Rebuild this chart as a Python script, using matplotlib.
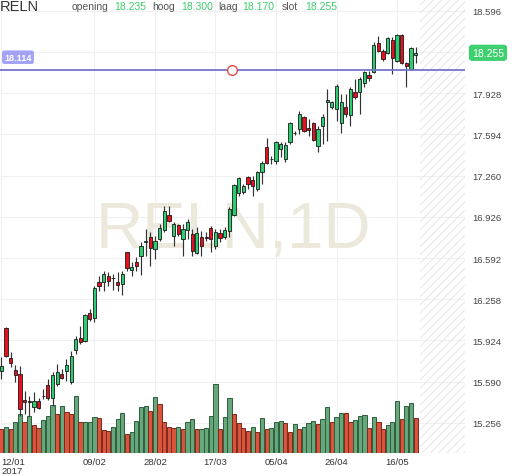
import matplotlib
matplotlib.use("Agg")
import matplotlib.pyplot as plt
import matplotlib.transforms as mtransforms
import numpy as np

# daily candles, 12/01/2017 .. 22/05/2017
opens = [15.679, 16.022, 15.779, 15.682, 15.654, 15.444, 15.436, 15.382, 15.436, 15.472,
         15.565, 15.455, 15.571, 15.654, 15.679, 15.585, 15.849, 15.944, 15.922, 16.146,
         16.103, 16.400, 16.395, 16.444, 16.430, 16.400, 16.381, 16.638, 16.497, 16.557,
         16.611, 16.724, 16.765, 16.665, 16.746, 16.819, 16.941, 16.773, 16.860, 16.746,
         16.819, 16.787, 16.633, 16.765, 16.765, 16.835, 16.692, 16.795, 16.760, 16.813,
         16.941, 17.116, 17.129, 17.246, 17.227, 17.151, 17.291, 17.489, 17.394, 17.381,
         17.475, 17.394, 17.530, 17.605, 17.638, 17.737, 17.643, 17.684, 17.502, 17.659,
         17.854, 17.813, 17.800, 17.686, 17.813, 17.751, 17.935, 17.935, 18.010, 18.075,
         18.099, 18.332, 18.267, 18.251, 18.361, 18.186, 18.399, 18.172, 18.124, 18.235]
highs = [15.787, 16.033, 15.833, 15.725, 15.719, 15.517, 15.476, 15.504, 15.455, 15.530,
         15.612, 15.666, 15.733, 15.693, 15.774, 15.841, 15.962, 16.039, 16.138, 16.179,
         16.368, 16.449, 16.489, 16.476, 16.462, 16.476, 16.489, 16.640, 16.557, 16.598,
         16.719, 16.827, 16.800, 16.773, 16.868, 17.016, 17.016, 16.881, 16.868, 16.868,
         16.908, 16.827, 16.841, 16.813, 16.800, 16.854, 16.827, 16.827, 16.841, 17.003,
         17.192, 17.246, 17.192, 17.259, 17.259, 17.300, 17.381, 17.562, 17.421, 17.543,
         17.535, 17.530, 17.692, 17.624, 17.786, 17.745, 17.719, 17.692, 17.664, 17.759,
         17.962, 17.867, 18.002, 17.921, 17.921, 17.975, 18.043, 18.056, 18.110, 18.110,
         18.340, 18.394, 18.286, 18.381, 18.381, 18.407, 18.407, 18.178, 18.300, 18.300]
lows = [15.612, 15.790, 15.706, 15.585, 15.312, 15.328, 15.314, 15.342, 15.368, 15.449,
        15.444, 15.395, 15.557, 15.612, 15.598, 15.571, 15.814, 15.895, 15.909, 16.084,
        16.071, 16.327, 16.327, 16.368, 16.335, 16.327, 16.292, 16.489, 16.449, 16.489,
        16.454, 16.611, 16.530, 16.584, 16.732, 16.800, 16.881, 16.692, 16.773, 16.611,
        16.746, 16.611, 16.625, 16.611, 16.732, 16.638, 16.665, 16.719, 16.746, 16.760,
        16.935, 17.092, 17.111, 17.151, 17.092, 17.137, 17.192, 17.354, 17.354, 17.354,
        17.408, 17.368, 17.516, 17.589, 17.597, 17.611, 17.583, 17.543, 17.449, 17.516,
        17.543, 17.800, 17.705, 17.605, 17.732, 17.659, 17.881, 17.759, 17.975, 18.026,
        18.089, 18.259, 18.191, 18.245, 18.083, 18.178, 18.164, 17.980, 18.116, 18.170]
closes = [15.719, 15.795, 15.741, 15.646, 15.368, 15.423, 15.423, 15.436, 15.374, 15.472,
          15.455, 15.646, 15.666, 15.622, 15.725, 15.800, 15.936, 15.909, 16.130, 16.098,
          16.349, 16.363, 16.460, 16.408, 16.430, 16.373, 16.465, 16.509, 16.522, 16.530,
          16.692, 16.732, 16.671, 16.732, 16.833, 16.975, 16.894, 16.868, 16.787, 16.827,
          16.881, 16.651, 16.795, 16.692, 16.752, 16.746, 16.800, 16.752, 16.821, 16.989,
          17.184, 17.240, 17.173, 17.192, 17.178, 17.291, 17.360, 17.362, 17.394, 17.530,
          17.516, 17.508, 17.684, 17.605, 17.759, 17.624, 17.632, 17.548, 17.638, 17.737,
          17.872, 17.854, 17.988, 17.854, 17.759, 17.962, 17.894, 18.043, 18.097, 18.048,
          18.318, 18.267, 18.205, 18.375, 18.210, 18.399, 18.172, 18.150, 18.294, 18.255]
# volume (relative, thousands) and bar direction as coloured on the chart
volumes = [240, 257, 240, 307, 390, 310, 370, 280, 247, 330, 370, 480, 390, 470, 407,
           393, 570, 307, 307, 313, 357, 347, 230, 217, 263, 340, 397, 190, 207, 323,
           457, 473, 417, 557, 487, 307, 263, 247, 257, 240, 307, 340, 240, 240, 247,
           370, 690,
           240, 357, 550, 390, 300, 247, 223, 263, 213, 347, 240, 247, 313, 323, 300,
           213, 290, 240, 263, 300, 323, 290, 340, 457, 313, 357, 400, 400, 307, 333,
           367, 383, 247, 357, 307, 240, 280, 307, 517, 340, 473, 497, 350]
vol_dir = list("RGRGGRGRRGGGRGRRGRGGGRRRGGGRGGGGRGRRRRGRGGRGGGG"
               "RGGRRRRGRGRGGGRRGRGGGRGGRGGRRGGGRGRRGGGRGGR")

tick_idx = [0, 20, 33, 46, 59, 72, 85]
tick_lbl = ["12/01\n2017", "09/02", "28/02", "17/03", "05/04", "26/04", "16/05"]
price_ticks = [15.256, 15.590, 15.924, 16.258, 16.592, 16.926, 17.260, 17.594, 17.928, 18.262, 18.596]
hline_price = 18.114
last_price = closes[-1]
header = [("opening", "18.235"), ("hoog", "18.300"), ("laag", "18.170"), ("slot", "18.255")]

plt.rcParams["font.family"] = ["Liberation Sans", "DejaVu Sans"]
plt.rcParams["hatch.color"] = "#e6e6e6"
plt.rcParams["hatch.linewidth"] = 0.7

W, H = 512, 477
fig = plt.figure(figsize=(W / 100, H / 100), dpi=100)
fig.patch.set_facecolor("white")
rect = [0, 23 / H, 465 / W, 454 / H]
axv = fig.add_axes(rect)
ax = fig.add_axes(rect, sharex=axv)
ax.patch.set_visible(False)

x = np.arange(len(closes))
ax.set_xlim(-0.28, 99.6)
ax.set_ylim(15.012, 18.691)

# grid on the bottom layer so it stays behind the volume bars
grid_tr = mtransforms.blended_transform_factory(axv.transAxes, ax.transData)
axv.hlines(price_ticks, 0, 1, transform=grid_tr, color="#f0f0f0", linewidth=0.8, zorder=0)
for t in tick_idx:
    axv.axvline(t, color="#f0f0f0", linewidth=0.8, zorder=0)

# volume panel
vface = ["#68a77c" if d == "G" else "#d9543d" for d in vol_dir]
vedge = ["#2c5f3b" if d == "G" else "#7d2a1c" for d in vol_dir]
axv.bar(x, volumes, width=0.9, color=vface, edgecolor=vedge, linewidth=0.7, zorder=2)
axv.set_ylim(0, 4540)
axv.set_yticks([])
axv.axvspan(89.9, 100, facecolor="none", edgecolor="#e6e6e6", hatch="////", linewidth=0, zorder=1)
axv.tick_params(axis="x", labelbottom=False, length=0)

# candles
o = np.array(opens); c = np.array(closes)
cols = ["#2ecc71" if cc > oo else ("#e8101e" if cc < oo else "#111111") for oo, cc in zip(o, c)]
ax.vlines(x, lows, highs, color="#333333", linewidth=0.85, zorder=3)
ax.bar(x, c - o, bottom=o, width=0.7, color=cols, edgecolor="#1a1a1a", linewidth=0.6, zorder=4)

# horizontal line with handle and label
ax.axhline(hline_price, color="#7474c8", linewidth=1.3, zorder=5)
ax.plot([49.5], [hline_price], "o", ms=7, mfc="white", mec="#e84a4a", mew=1.0, zorder=6)
ax.annotate(f"{hline_price:.3f}", xy=(0, hline_price), xycoords=("axes fraction", "data"),
            xytext=(18, 13), textcoords="offset pixels", ha="center", va="center",
            fontsize=6.5, color="white", fontweight="bold",
            bbox=dict(boxstyle="round,pad=0.25", fc="#a3a3f5", ec="none"))
ax.annotate(f"{last_price:.3f}", xy=(1, last_price), xycoords=("axes fraction", "data"),
            xytext=(23, 0), textcoords="offset pixels", ha="center", va="center",
            fontsize=7.5, color="white",
            bbox=dict(boxstyle="round,pad=0.3", fc="#3ecf6e", ec="none"),
            annotation_clip=False, zorder=10)

# watermark
ax.text(233 / W, 1 - 247 / H, "RELN,1D", transform=fig.transFigure, ha="center",
        va="baseline", fontsize=47, color="#ede8dc", zorder=0.5)

# price scale on the right; the label under the last-price box is hidden
ax.yaxis.tick_right()
ax.set_yticks(price_ticks)
ax.set_yticklabels(["" if abs(v - last_price) < 0.05 else f"{v:.3f}" for v in price_ticks])
ax.set_xticks(tick_idx)
ax.set_xticklabels(tick_lbl, linespacing=0.95)
ax.get_xticklabels()[0].set_ha("left")
ax.tick_params(axis="y", length=0, pad=5, labelsize=6.8, labelcolor="#444444")
ax.tick_params(axis="x", length=0, pad=3, labelsize=6.8, labelcolor="#333333")
for a in (ax, axv):
    for s in a.spines.values():
        s.set_visible(False)

# header line
fig.text(0, 1 - 11 / H, "RELN", fontsize=10.5, color="#333333", va="baseline")
hx = [(72, 114), (152, 181), (218, 242), (282, 305)]
for (lab, val), (xl, xv) in zip(header, hx):
    fig.text(xl / W, 1 - 10 / H, lab, fontsize=7.5, color="#555555", va="baseline")
    fig.text(xv / W, 1 - 10 / H, val, fontsize=7.5, color="#3dcc6b", va="baseline")

fig.savefig("out.png", dpi=100)
